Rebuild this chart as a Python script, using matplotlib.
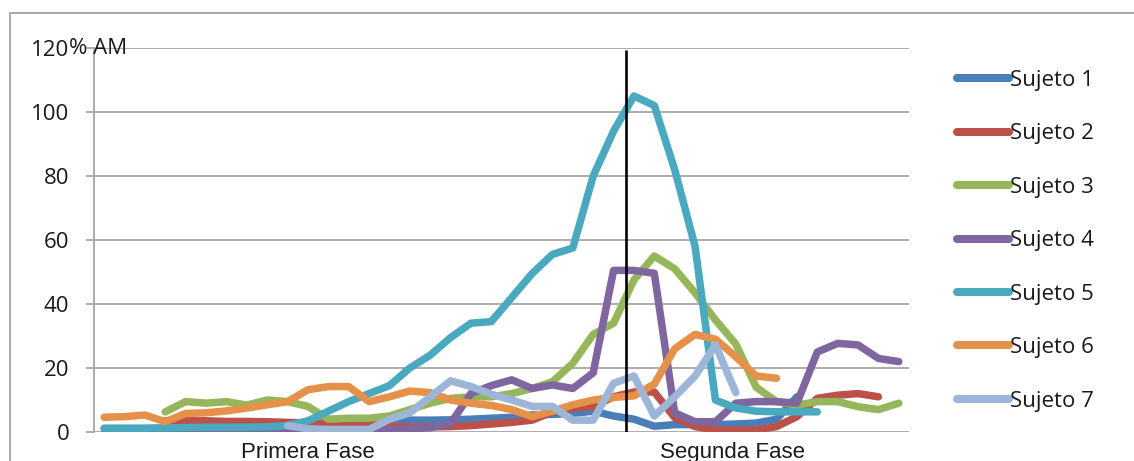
import matplotlib
matplotlib.use('Agg')
import matplotlib.pyplot as plt
import numpy as np
from matplotlib.patches import Rectangle

nan = np.nan

# 40 sessions, two phases
sessions = np.arange(40)
phase_labels = ['Primera Fase', 'Segunda Fase']
phase_label_pos = [10, 30.85]
phase_split = 25.6

sujeto_1 = [1.0, 1.0, 1.0, 1.2, 1.2, 1.3, 1.3, 1.4, 1.5, 1.6,
            2.0, 2.5, 2.8, 3.0, 3.3, 3.7, 3.7, 3.8, 4.0, 4.3,
            4.6, 5.3, 5.5, 5.8, 6.5, 5.0, 4.0, 1.8, 2.3, 2.3,
            2.3, 2.5, 2.8, 4.0, 11.0, nan, nan, nan, nan, nan]
sujeto_2 = [nan, nan, nan, 3.5, 3.5, 3.5, 3.3, 3.3, 3.2, 3.0,
            2.8, 2.8, 2.7, 2.5, 1.8, 1.5, 1.6, 1.7, 2.0, 2.5,
            3.0, 3.7, 6.3, 7.4, 8.0, 11.0, 12.5, 12.5, 4.5, 1.7,
            0.6, 0.6, 0.6, 1.7, 4.8, 10.5, 11.5, 12.0, 11.0, nan]
sujeto_3 = [nan, nan, nan, 6.3, 9.5, 9.0, 9.5, 8.4, 10.0, 9.5,
            8.0, 4.0, 4.3, 4.3, 5.0, 7.0, 9.0, 10.5, 11.0, 11.0,
            12.0, 13.6, 15.7, 21.5, 30.5, 34.0, 47.5, 55.0, 51.0, 43.5,
            35.0, 27.5, 14.0, 9.5, 8.4, 9.5, 9.5, 7.9, 7.0, 9.0]
sujeto_4 = [nan, nan, nan, nan, 0.5, 0.5, 0.5, 0.5, 0.5, 0.5,
            0.5, 0.5, 0.5, 0.5, 0.8, 1.0, 1.3, 2.7, 12.0, 14.5,
            16.3, 13.6, 14.7, 13.6, 18.5, 50.5, 50.5, 49.6, 6.0, 3.2,
            3.2, 9.0, 9.5, 9.5, 9.0, 25.0, 27.7, 27.2, 23.0, 22.0]
sujeto_5 = [1.2, 1.2, 1.2, 1.3, 1.4, 1.5, 1.5, 1.5, 1.6, 2.0,
            3.5, 6.5, 9.5, 12.0, 14.5, 20.0, 24.0, 29.5, 34.0, 34.5,
            42.0, 49.5, 55.5, 57.5, 80.0, 94.0, 105.0, 102.0, 82.0, 58.0,
            10.0, 7.5, 6.5, 6.3, 6.3, 6.3, nan, nan, nan, nan]
sujeto_6 = [4.6, 4.8, 5.3, 3.2, 5.8, 6.0, 6.6, 7.5, 8.5, 9.5,
            13.2, 14.2, 14.2, 9.5, 11.0, 12.8, 12.3, 10.0, 9.0, 8.3,
            7.0, 4.8, 6.5, 8.5, 10.0, 10.8, 11.3, 15.0, 26.0, 30.5,
            29.0, 23.5, 17.5, 16.8, nan, nan, nan, nan, nan, nan]
sujeto_7 = [nan, nan, nan, nan, nan, nan, nan, nan, nan, 2.0,
            1.0, 0.8, 0.8, 0.8, 4.0, 6.0, 11.0, 16.0, 14.2, 11.8,
            10.0, 8.0, 8.0, 3.7, 3.7, 15.2, 17.5, 5.0, 11.0, 17.5,
            27.2, 12.3, nan, nan, nan, nan, nan, nan, nan, nan]

series = [sujeto_1, sujeto_2, sujeto_3, sujeto_4, sujeto_5, sujeto_6, sujeto_7]
names = ['Sujeto 1', 'Sujeto 2', 'Sujeto 3', 'Sujeto 4', 'Sujeto 5', 'Sujeto 6', 'Sujeto 7']
colors = ['#4a7eb8', '#bb5149', '#95b65a', '#8066a0', '#4aa9be', '#e6914a', '#9db6d8']

W, H = 1134, 461
fig = plt.figure(figsize=(W / 100, H / 100), dpi=100)
ax = fig.add_axes([94 / W, 29 / H, 815 / W, 384 / H])

# outer chart border
fig.add_artist(Rectangle((10 / W, -0.5), 2, (H - 13) / H + 0.5,
                         transform=fig.transFigure, fill=False,
                         edgecolor='#a3a3a3', lw=1.3))

for vals, name, c in zip(series, names, colors):
    ax.plot(sessions, vals, color=c, lw=5.4, label=name,
            solid_capstyle='round', solid_joinstyle='round')

ax.vlines(phase_split, 0, 119.4, color='black', lw=1.9, zorder=5)

ax.set_xlim(-0.5, 39.5)
ax.set_ylim(0, 120)
ax.set_yticks(range(0, 121, 20))
ax.yaxis.grid(True, color='#a6a6a6', lw=1.3)
ax.set_axisbelow(True)
for s in ['top', 'right', 'bottom']:
    ax.spines[s].set_visible(False)
ax.spines['left'].set_color('#a6a6a6')
ax.spines['left'].set_linewidth(1.3)

ax.tick_params(axis='y', length=5.8, width=1.3, color='#a6a6a6', pad=12,
               labelsize=16, labelcolor='#1a1a1a')
for t in ax.get_yticklabels():
    t.set_family('Open Sans')
ax.text(-25 / 815, 120, '% AM', transform=ax.get_yaxis_transform(),
        ha='left', va='center', fontsize=16, family='Open Sans', color='#1a1a1a')

ax.set_xticks(phase_label_pos)
ax.set_xticklabels(phase_labels, family='Liberation Sans', fontsize=16, color='#1a1a1a')
ax.tick_params(axis='x', length=0, pad=7)

leg = ax.legend(loc='upper left', bbox_to_anchor=(957 / W, (H - 70) / H),
                bbox_transform=fig.transFigure, frameon=False,
                handlelength=2.35, handletextpad=0.05, labelspacing=1.46,
                borderpad=0, borderaxespad=0,
                prop={'family': 'Open Sans', 'size': 16})
for t in leg.get_texts():
    t.set_color('#1a1a1a')
for h in leg.legend_handles:
    h.set_linewidth(5.8)

fig.savefig('out.png', dpi=100, facecolor='white')
